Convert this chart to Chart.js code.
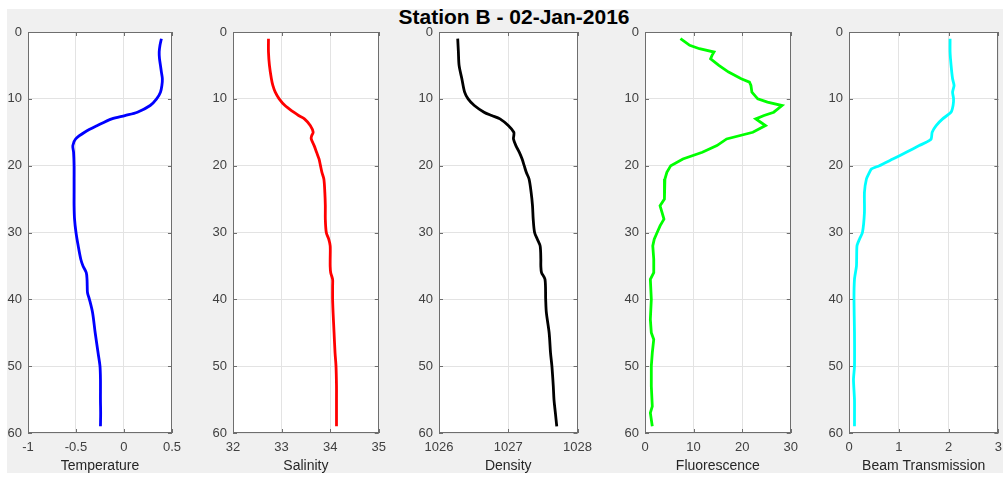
<!DOCTYPE html>
<html>
<head>
<meta charset="utf-8">
<script src="https://cdn.jsdelivr.net/npm/chart.js@4"></script>
<style>
  html, body { margin: 0; padding: 0; background: #ffffff; }
  body { width: 1006px; height: 478px; position: relative; overflow: hidden; font-family: "Liberation Sans", Arial, sans-serif; }
  #fig { position: absolute; left: 7px; top: 9px; width: 996px; height: 464px; background: #f0f0f0; }
  #title { position: absolute; left: 314px; width: 400px; top: 5px; text-align: center; font: bold 21px "Liberation Sans", Arial, sans-serif; color: #000; }
  .panel { position: absolute; top: 0; width: 200px; height: 478px; }
</style>
</head>
<body>
<div id="fig"></div>
<div id="title">Station B - 02-Jan-2016</div>
<div class="panel" id="p0"><canvas id="c0" width="200" height="478"></canvas></div>
<div class="panel" id="p1"><canvas id="c1" width="200" height="478"></canvas></div>
<div class="panel" id="p2"><canvas id="c2" width="200" height="478"></canvas></div>
<div class="panel" id="p3"><canvas id="c3" width="200" height="478"></canvas></div>
<div class="panel" id="p4"><canvas id="c4" width="200" height="478"></canvas></div>
<script>
// ---------- data ----------
const depthTicks = [0, 10, 20, 30, 40, 50, 60];

const tempDepth = [1,2,3,4,5,6,7,8,9,10,11,12,12.5,13,14,15,16,17,18,20,22,24,26,28,30,32,34,35,36,37,38,39,40,42,45,48,50,52,55,57,59];
const temperature = [0.39,0.375,0.367,0.37,0.38,0.39,0.40,0.395,0.38,0.34,0.273,0.14,0.01,-0.127,-0.277,-0.41,-0.503,-0.533,-0.525,-0.52,-0.52,-0.52,-0.52,-0.515,-0.50,-0.477,-0.45,-0.427,-0.393,-0.385,-0.383,-0.38,-0.36,-0.327,-0.30,-0.27,-0.25,-0.245,-0.245,-0.243,-0.245];
const tempTicks = [-1, -0.5, 0, 0.5];

const salDepth = [1,3,5,7,8,9,10,11,12,12.5,13,14,15,15.5,16,17,18,19,20,21,22,24,26,28,30,31,32,34,35,36,37,38,40,42,45,48,50,53,55,57,59];
const salinity = [32.73,32.73,32.75,32.79,32.82,32.87,32.95,33.07,33.25,33.35,33.47,33.59,33.65,33.62,33.61,33.67,33.72,33.77,33.8,33.83,33.87,33.89,33.9,33.9,33.92,33.97,34.0,34.0,34.0,34.01,34.05,34.05,34.05,34.06,34.08,34.1,34.12,34.13,34.13,34.13,34.13];
const salTicks = [32, 33, 34, 35];

const densDepth = [1,3,5,7,9,10,11,12,12.5,13,14,15,15.5,16,17,18,19,20,21,22,24,26,28,30,31,32,34,35,36,37,40,42,45,48,50,53,55,57,59];
const density = [1026.27,1026.28,1026.29,1026.33,1026.37,1026.42,1026.51,1026.65,1026.76,1026.88,1027.0,1027.08,1027.08,1027.075,1027.11,1027.16,1027.2,1027.23,1027.26,1027.3,1027.33,1027.35,1027.36,1027.38,1027.42,1027.46,1027.47,1027.47,1027.48,1027.53,1027.54,1027.55,1027.59,1027.61,1027.63,1027.65,1027.66,1027.68,1027.70];
const densTicks = [1026, 1027, 1028];

const fluoDepth = [1,2,2.5,3,3.5,4,5,6,7,7.5,8,9,10,10.5,11,12,12.5,13,13.5,14,15,16,17,18,19,20,21,22,24,25,26,27,28,29,30,31,32,34,36,37,40,43,45,46,48,50,53,56,57,59];
const fluorescence = [7.3,9.2,11.2,14.2,13.8,13.5,15.2,17.2,19.8,21.5,21.8,22,23.2,25.2,28.2,26.5,24.5,22.8,23.8,24.8,22.2,16.8,14.8,11.8,7.8,5.3,4.5,4.1,4.0,4.0,3.1,3.5,3.9,3.1,2.5,1.9,1.6,1.8,1.8,1.1,1.3,1.1,1.3,1.8,1.5,1.3,1.3,1.5,1.1,1.5];
const fluoTicks = [0, 10, 20, 30];

const beamDepth = [1,3,5,7,8,9,10,11,12,13,14,15,16,16.5,17,18,19,20,20.5,21,22,24,27,30,31,32,35,37,40,45,50,52,55,59];
const beam = [2.03,2.03,2.05,2.08,2.11,2.08,2.1,2.09,2.05,1.88,1.75,1.67,1.65,1.55,1.41,1.15,0.88,0.61,0.45,0.41,0.35,0.31,0.31,0.27,0.21,0.16,0.15,0.11,0.1,0.11,0.11,0.09,0.11,0.11];
const beamTicks = [0, 1, 2, 3];

const axisLabels = ['Temperature', 'Salinity', 'Density', 'Fluorescence', 'Beam Transmission'];

// ---------- layout / style ----------
const PLOT_LEFT = [28, 233, 439, 645, 849];
const Y_AXIS_W = 40;
const PLOT_W = 150;
const TOP = 32;
const X_AXIS_H = 45;

const panels = [
  { depth: tempDepth, values: temperature, ticks: tempTicks, color: '#0000ff', tension: 0.3 },
  { depth: salDepth, values: salinity, ticks: salTicks, color: '#ff0000', tension: 0.3 },
  { depth: densDepth, values: density, ticks: densTicks, color: '#000000', tension: 0.3 },
  { depth: fluoDepth, values: fluorescence, ticks: fluoTicks, color: '#00ff00', tension: 0 },
  { depth: beamDepth, values: beam, ticks: beamTicks, color: '#00ffff', tension: 0.2 }
];

const boxPlugin = {
  id: 'box',
  beforeDraw(chart) {
    const a = chart.chartArea, ctx = chart.ctx;
    ctx.save();
    ctx.fillStyle = '#ffffff';
    ctx.fillRect(a.left, a.top, a.right - a.left, a.bottom - a.top);
    ctx.restore();
  },
  afterDraw(chart) {
    const a = chart.chartArea, ctx = chart.ctx;
    const xs = chart.scales.x, ys = chart.scales.y;
    ctx.save();
    ctx.strokeStyle = '#6e6e6e';
    ctx.lineWidth = 1;
    ctx.strokeRect(Math.round(a.left) + 0.5, Math.round(a.top) + 0.5, Math.round(a.right - a.left) - 1, Math.round(a.bottom - a.top) - 1);
    const L = 4;
    ctx.beginPath();
    xs.ticks.forEach(t => {
      const px = Math.round(xs.getPixelForValue(t.value)) + 0.5;
      ctx.moveTo(px, a.bottom); ctx.lineTo(px, a.bottom - L);
      ctx.moveTo(px, a.top); ctx.lineTo(px, a.top + L);
    });
    ys.ticks.forEach(t => {
      const py = Math.round(ys.getPixelForValue(t.value)) + 0.5;
      ctx.moveTo(a.left, py); ctx.lineTo(a.left + L, py);
      ctx.moveTo(a.right, py); ctx.lineTo(a.right - L, py);
    });
    ctx.stroke();
    ctx.restore();
  }
};

const tickFont = { family: '"Liberation Sans", Arial, sans-serif', size: 13 };
const plainLabel = (v) => String(v);

panels.forEach((p, i) => {
  const holder = document.getElementById('p' + i);
  holder.style.left = (PLOT_LEFT[i] - Y_AXIS_W) + 'px';
  const pts = p.depth.map((d, k) => ({ x: p.values[k], y: d }));
  new Chart(document.getElementById('c' + i), {
    type: 'scatter',
    data: {
      datasets: [{
        data: pts,
        showLine: true,
        borderColor: p.color,
        backgroundColor: p.color,
        borderWidth: 2.8,
        pointRadius: 0,
        tension: p.tension,
        fill: false
      }]
    },
    options: {
      responsive: false,
      animation: false,
      devicePixelRatio: 1,
      layout: { padding: { top: TOP, left: 0, right: 200 - Y_AXIS_W - PLOT_W, bottom: 0 } },
      plugins: { legend: { display: false }, tooltip: { enabled: false }, title: { display: false } },
      scales: {
        x: {
          type: 'linear',
          position: 'bottom',
          min: p.ticks[0],
          max: p.ticks[p.ticks.length - 1],
          afterBuildTicks: (s) => { s.ticks = p.ticks.map(v => ({ value: v })); },
          afterFit: (s) => { s.height = X_AXIS_H; },
          grid: { color: '#e3e3e3', lineWidth: 1, drawTicks: false },
          border: { display: false },
          ticks: { font: tickFont, color: '#404040', padding: 7, maxRotation: 0, autoSkip: false, callback: plainLabel },
          title: { display: true, text: axisLabels[i], font: { family: '"Liberation Sans", Arial, sans-serif', size: 14 }, color: '#262626', padding: { top: 0, bottom: 3 } }
        },
        y: {
          type: 'linear',
          position: 'left',
          reverse: true,
          min: 0,
          max: 60,
          afterBuildTicks: (s) => { s.ticks = depthTicks.map(v => ({ value: v })); },
          afterFit: (s) => { s.width = Y_AXIS_W; },
          grid: { color: '#e3e3e3', lineWidth: 1, drawTicks: false },
          border: { display: false },
          ticks: { font: tickFont, color: '#404040', padding: 6, autoSkip: false, callback: plainLabel }
        }
      }
    },
    plugins: [boxPlugin]
  });
});
</script>
</body>
</html>
